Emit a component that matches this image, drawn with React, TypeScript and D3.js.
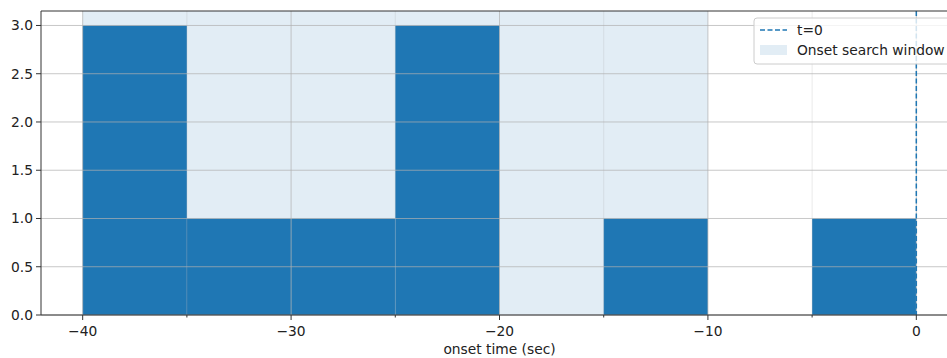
import React from "react";
import * as d3 from "d3";

// histogram of onset times, 5 s bins
const binEdges = [-40, -35, -30, -25, -20, -15, -10, -5, 0];
const counts = [3, 1, 1, 3, 0, 1, 0, 1];
const xTicks = [-40, -30, -20, -10, 0];
const xMinorTicks = [-35, -25, -15, -5];
const yTicks = [0, 0.5, 1, 1.5, 2, 2.5, 3];
const searchWindow = [-40, -10];
const onsetLine = 0;
const legendLabels = ["t=0", "Onset search window"];

const W = 947;
const H = 358;
const margin = { top: 11, right: -11, bottom: 43, left: 41 };
const font = "DejaVu Sans, sans-serif";
const fs = 13.8;
const blue = "#1f77b4";

export default function App() {
  const x = d3
    .scaleLinear()
    .domain([-42, 2])
    .range([margin.left, W - margin.right]);
  const y = d3
    .scaleLinear()
    .domain([0, 3.15])
    .range([H - margin.bottom, margin.top]);

  const bars = counts.map((c, i) => ({ x0: binEdges[i], x1: binEdges[i + 1], c }));
  const top = y(3.15);
  const bottom = y(0);

  return (
    <svg width={W} height={H} style={{ position: "absolute", left: 0, top: 0, background: "#fff" }}>
      {/* search window span */}
      <rect
        x={x(searchWindow[0])}
        y={top}
        width={x(searchWindow[1]) - x(searchWindow[0])}
        height={bottom - top}
        fill={blue}
        fillOpacity={0.13}
      />

      {/* bars */}
      {bars.map((b, i) =>
        b.c > 0 ? (
          <rect key={i} x={x(b.x0)} y={y(b.c)} width={x(b.x1) - x(b.x0)} height={bottom - y(b.c)} fill={blue} />
        ) : null
      )}

      {/* grid */}
      {xMinorTicks.map((t) => (
        <line key={"mg" + t} x1={x(t)} x2={x(t)} y1={top} y2={bottom} stroke="#b0b0b0" strokeOpacity={0.25} strokeWidth={1} />
      ))}
      {xTicks.map((t) => (
        <line key={"xg" + t} x1={x(t)} x2={x(t)} y1={top} y2={bottom} stroke="#b0b0b0" strokeOpacity={0.7} strokeWidth={1} />
      ))}
      {yTicks.map((t) => (
        <line key={"yg" + t} x1={margin.left} x2={W} y1={y(t)} y2={y(t)} stroke="#b0b0b0" strokeOpacity={0.7} strokeWidth={1} />
      ))}

      {/* t=0 line */}
      <line x1={x(onsetLine)} x2={x(onsetLine)} y1={top} y2={bottom} stroke={blue} strokeWidth={1.5} strokeDasharray="5,2.5" />

      {/* spines */}
      <line x1={margin.left} x2={margin.left} y1={top} y2={bottom} stroke="#333" strokeWidth={1} />
      <line x1={margin.left} x2={W} y1={top} y2={top} stroke="#333" strokeWidth={1} />
      <line x1={margin.left} x2={W} y1={bottom} y2={bottom} stroke="#333" strokeWidth={1} />

      {/* x axis ticks */}
      {xTicks.map((t) => (
        <g key={"xt" + t} transform={`translate(${x(t)},${bottom})`}>
          <line y2={5} stroke="#333" />
          <text y={21} textAnchor="middle" fontFamily={font} fontSize={fs} fill="#222">
            {t < 0 ? "\u2212" + Math.abs(t) : t}
          </text>
        </g>
      ))}
      {xMinorTicks.map((t) => (
        <line key={"xm" + t} x1={x(t)} x2={x(t)} y1={bottom} y2={bottom + 2.5} stroke="#333" />
      ))}
      <text x={(margin.left + W - margin.right) / 2} y={H - 4} textAnchor="middle" fontFamily={font} fontSize={fs} fill="#222">
        onset time (sec)
      </text>

      {/* y axis ticks */}
      {yTicks.map((t) => (
        <g key={"yt" + t} transform={`translate(${margin.left},${y(t)})`}>
          <line x2={-5} stroke="#333" />
          <text x={-8} dy="0.35em" textAnchor="end" fontFamily={font} fontSize={fs} fill="#222">
            {t.toFixed(1)}
          </text>
        </g>
      ))}

      {/* legend */}
      <g transform="translate(754,18)">
        <rect x={0} y={0} width={205} height={46} rx={3} fill="#fff" fillOpacity={0.8} stroke="#ccc" />
        <line x1={6} x2={33} y1={12} y2={12} stroke={blue} strokeWidth={1.5} strokeDasharray="5,2.5" />
        <text x={43} y={17} fontFamily={font} fontSize={fs} fill="#222">
          {legendLabels[0]}
        </text>
        <rect x={6} y={27} width={27} height={10} fill={blue} fillOpacity={0.13} />
        <text x={43} y={37} fontFamily={font} fontSize={fs} fill="#222">
          {legendLabels[1]}
        </text>
      </g>
    </svg>
  );
}
